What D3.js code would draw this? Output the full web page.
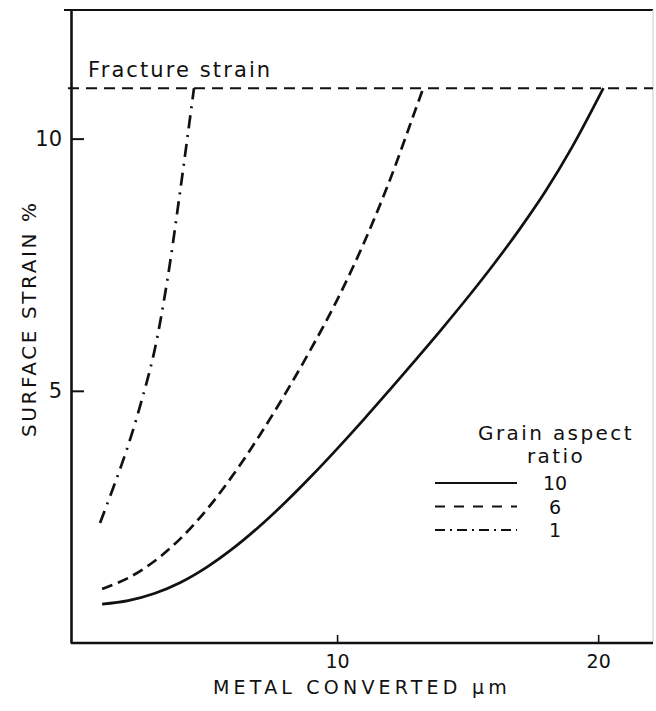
<!DOCTYPE html>
<html>
<head>
<meta charset="utf-8">
<script src="https://cdn.jsdelivr.net/npm/d3@7/dist/d3.min.js"></script>
<style>
  html, body { margin: 0; padding: 0; background: #fff; }
  svg { display: block; }
  text { font-family: "DejaVu Sans", sans-serif; fill: #111; }
</style>
</head>
<body>
<svg id="chart" width="656" height="711"></svg>
<script>
// Surface strain vs. metal converted, for three grain aspect ratios
const aspectRatios = ["10", "6", "1"];

const ar10X = [1.0, 2.0, 3.0, 4.0, 5.0, 6.0, 7.0, 8.0, 9.0, 10.0, 11.0, 12.0, 13.0, 14.0, 15.0, 16.0, 17.0, 18.0, 19.0, 20.2];
const ar10Y = [0.77, 0.84, 0.98, 1.20, 1.50, 1.87, 2.30, 2.78, 3.30, 3.85, 4.42, 5.01, 5.61, 6.22, 6.85, 7.51, 8.21, 8.97, 9.83, 11.0];

const ar6X = [1.0, 2.0, 3.0, 4.0, 5.0, 6.0, 7.0, 8.0, 9.0, 10.0, 11.0, 12.0, 13.0, 13.3];
const ar6Y = [1.07, 1.29, 1.62, 2.07, 2.64, 3.32, 4.09, 4.93, 5.83, 6.80, 7.90, 9.15, 10.57, 11.0];

const ar1X = [0.92, 1.5, 2.0, 2.5, 3.0, 3.5, 4.0, 4.3, 4.52];
const ar1Y = [2.38, 3.18, 3.92, 4.78, 5.78, 7.20, 9.00, 10.15, 11.0];

const fractureStrain = 11;
const xTicks = [10, 20];
const yTicks = [5, 10];

const svg = d3.select("#chart");

const x = d3.scaleLinear().domain([0, 22.1]).range([76, 653]);
const y = d3.scaleLinear().domain([0, 12.55]).range([643, 10]);

const series = [
  { label: aspectRatios[0], xs: ar10X, ys: ar10Y, dash: null, legendDash: null },
  { label: aspectRatios[1], xs: ar6X, ys: ar6Y, dash: "11,6", legendDash: "10,9" },
  { label: aspectRatios[2], xs: ar1X, ys: ar1Y, dash: "13,7,2,7", legendDash: "10,5,2,5" }
];

// frame: top edge and faint right edge
svg.append("line")
  .attr("x1", x(0) - 12).attr("x2", x(22.1))
  .attr("y1", y(12.55)).attr("y2", y(12.55))
  .attr("stroke", "#111").attr("stroke-width", 2.2);
svg.append("line")
  .attr("x1", x(22.1)).attr("x2", x(22.1))
  .attr("y1", y(12.55)).attr("y2", y(0))
  .attr("stroke", "#ddd").attr("stroke-width", 1.5);

// axes
const yAxis = d3.axisLeft(y).tickValues(yTicks).tickSize(-13).tickSizeOuter(0).tickPadding(9);
const gy = svg.append("g").attr("transform", `translate(${x(0) - 5},0)`).call(yAxis);
gy.select(".domain").attr("stroke", "#111").attr("stroke-width", 2.6);
gy.selectAll(".tick line").attr("stroke", "#111").attr("stroke-width", 2);
gy.selectAll(".tick text").style("font-size", "21px").attr("fill", "#111");

const xAxis = d3.axisBottom(x).tickValues(xTicks).tickSize(-8).tickSizeOuter(0).tickPadding(12);
const gx = svg.append("g").attr("transform", `translate(0,${y(0)})`).call(xAxis);
gx.select(".domain").attr("stroke", "#111").attr("stroke-width", 2.4)
  .attr("d", `M${x(0) - 5},0H${x(22.1)}`);
gx.selectAll(".tick line").attr("stroke", "#111").attr("stroke-width", 1.6);
gx.selectAll(".tick text").style("font-size", "19px").attr("fill", "#111");

// axis titles
svg.append("text")
  .attr("x", 213).attr("y", 694)
  .style("font-size", "19px").style("letter-spacing", "4.2px")
  .text("METAL CONVERTED μm");

svg.append("text")
  .attr("transform", `translate(36,437) rotate(-90)`)
  .style("font-size", "20px").style("letter-spacing", "2.6px")
  .text("SURFACE STRAIN %");

// fracture strain limit
svg.append("line")
  .attr("x1", x(0) - 8).attr("x2", x(22.1))
  .attr("y1", y(fractureStrain)).attr("y2", y(fractureStrain))
  .attr("stroke", "#111").attr("stroke-width", 2).attr("stroke-dasharray", "11,7");
svg.append("text")
  .attr("x", 88).attr("y", 77)
  .style("font-size", "21px").style("letter-spacing", "2.1px")
  .text("Fracture strain");

// curves
const line = d3.line().x(d => x(d[0])).y(d => y(d[1])).curve(d3.curveCatmullRom.alpha(0.5));
series.forEach(s => {
  const pts = s.xs.map((v, i) => [v, s.ys[i]]);
  svg.append("path")
    .datum(pts)
    .attr("d", line)
    .attr("fill", "none")
    .attr("stroke", "#111")
    .attr("stroke-width", 2.7)
    .attr("stroke-linejoin", "round")
    .attr("stroke-dasharray", s.dash);
});

// legend
const lg = svg.append("g");
lg.append("text").attr("x", 478).attr("y", 440)
  .style("font-size", "20px").style("letter-spacing", "2.4px")
  .text("Grain aspect");
lg.append("text").attr("x", 556).attr("y", 463).attr("text-anchor", "middle")
  .style("font-size", "20px").style("letter-spacing", "2.4px")
  .text("ratio");
series.forEach((s, i) => {
  const yy = 483 + i * 23.5;
  lg.append("line")
    .attr("x1", 435).attr("x2", 517).attr("y1", yy).attr("y2", yy)
    .attr("stroke", "#111").attr("stroke-width", 1.8)
    .attr("stroke-dasharray", s.legendDash);
  lg.append("text").attr("x", 555).attr("y", yy + 7).attr("text-anchor", "middle")
    .style("font-size", "19px")
    .text(s.label);
});
</script>
</body>
</html>
